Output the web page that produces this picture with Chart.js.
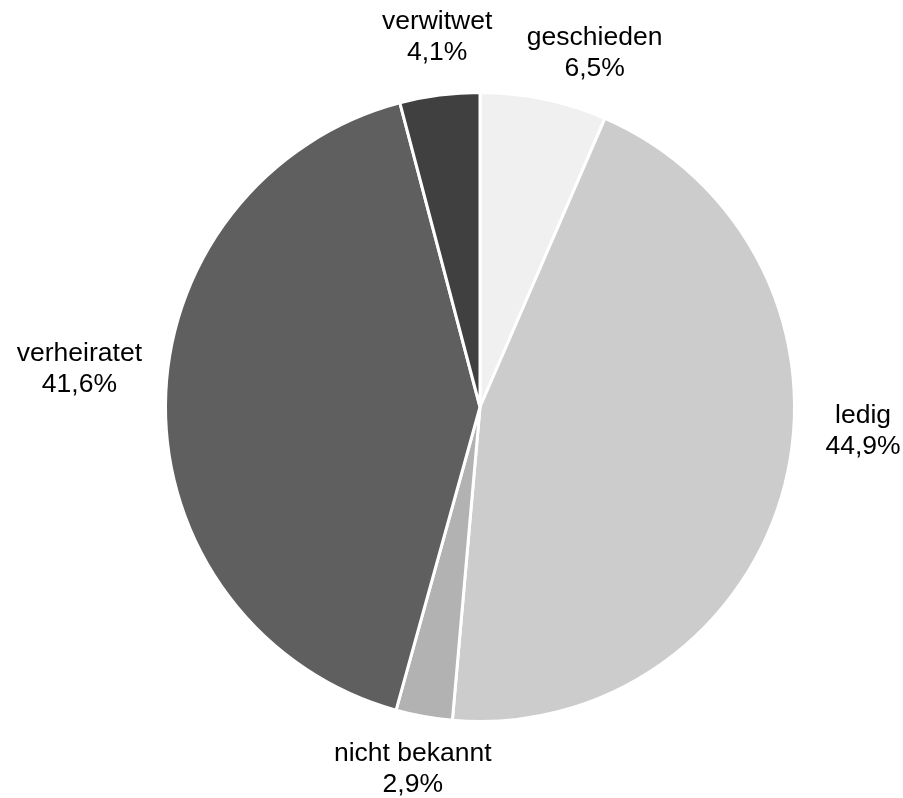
<!DOCTYPE html>
<html><head><meta charset="utf-8">
<script src="https://cdn.jsdelivr.net/npm/chart.js@4/dist/chart.umd.min.js"></script>
<style>html,body{margin:0;padding:0;background:#fff}#wrap{width:903px;height:798px}</style>
</head><body><div id="wrap"><canvas id="c" width="903" height="798"></canvas></div>
<script>
const categories = ["geschieden", "ledig", "nicht bekannt", "verheiratet", "verwitwet"];
const shares = [6.5, 44.9, 2.9, 41.6, 4.1];
const sliceColors = ["#f0f0f0", "#cccccc", "#b2b2b2", "#5f5f5f", "#404040"];

const labelPlugin = {
  id: "outLabels",
  afterDatasetsDraw(chart, args, opts) {
    const ctx = chart.ctx;
    const meta = chart.getDatasetMeta(0);
    ctx.save();
    ctx.font = opts.font;
    ctx.fillStyle = "#000";
    ctx.textAlign = "center";
    ctx.textBaseline = "middle";
    meta.data.forEach((arc, i) => {
      const mid = (arc.startAngle + arc.endAngle) / 2 + (opts.angleShift[i] || 0) * Math.PI / 180;
      const r = arc.outerRadius * opts.distance[i];
      const x = arc.x + Math.cos(mid) * r;
      const y = arc.y + Math.sin(mid) * r + opts.yNudge;
      const txt = shares[i].toFixed(1).replace(".", ",") + "%";
      ctx.fillText(categories[i], x, y - opts.lineGap / 2);
      ctx.fillText(txt, x, y + opts.lineGap / 2);
    });
    ctx.restore();
  }
};

new Chart(document.getElementById("c"), {
  type: "pie",
  data: {
    labels: categories,
    datasets: [{
      data: shares,
      backgroundColor: sliceColors,
      borderColor: "#ffffff",
      borderWidth: 3
    }]
  },
  options: {
    responsive: false,
    animation: false,
    layout: { padding: { left: 164, right: 107, top: 91, bottom: 75 } },
    plugins: {
      legend: { display: false },
      tooltip: { enabled: false },
      outLabels: {
        font: "26.5px 'Liberation Sans', Arial, sans-serif",
        lineGap: 31,
        yNudge: 1.5,
        angleShift: [6.2, -10.9, 0.3, 5.3, 0.8],
        distance: [1.186, 1.22, 1.166, 1.28, 1.19]
      }
    }
  },
  plugins: [labelPlugin]
});
</script></body></html>
